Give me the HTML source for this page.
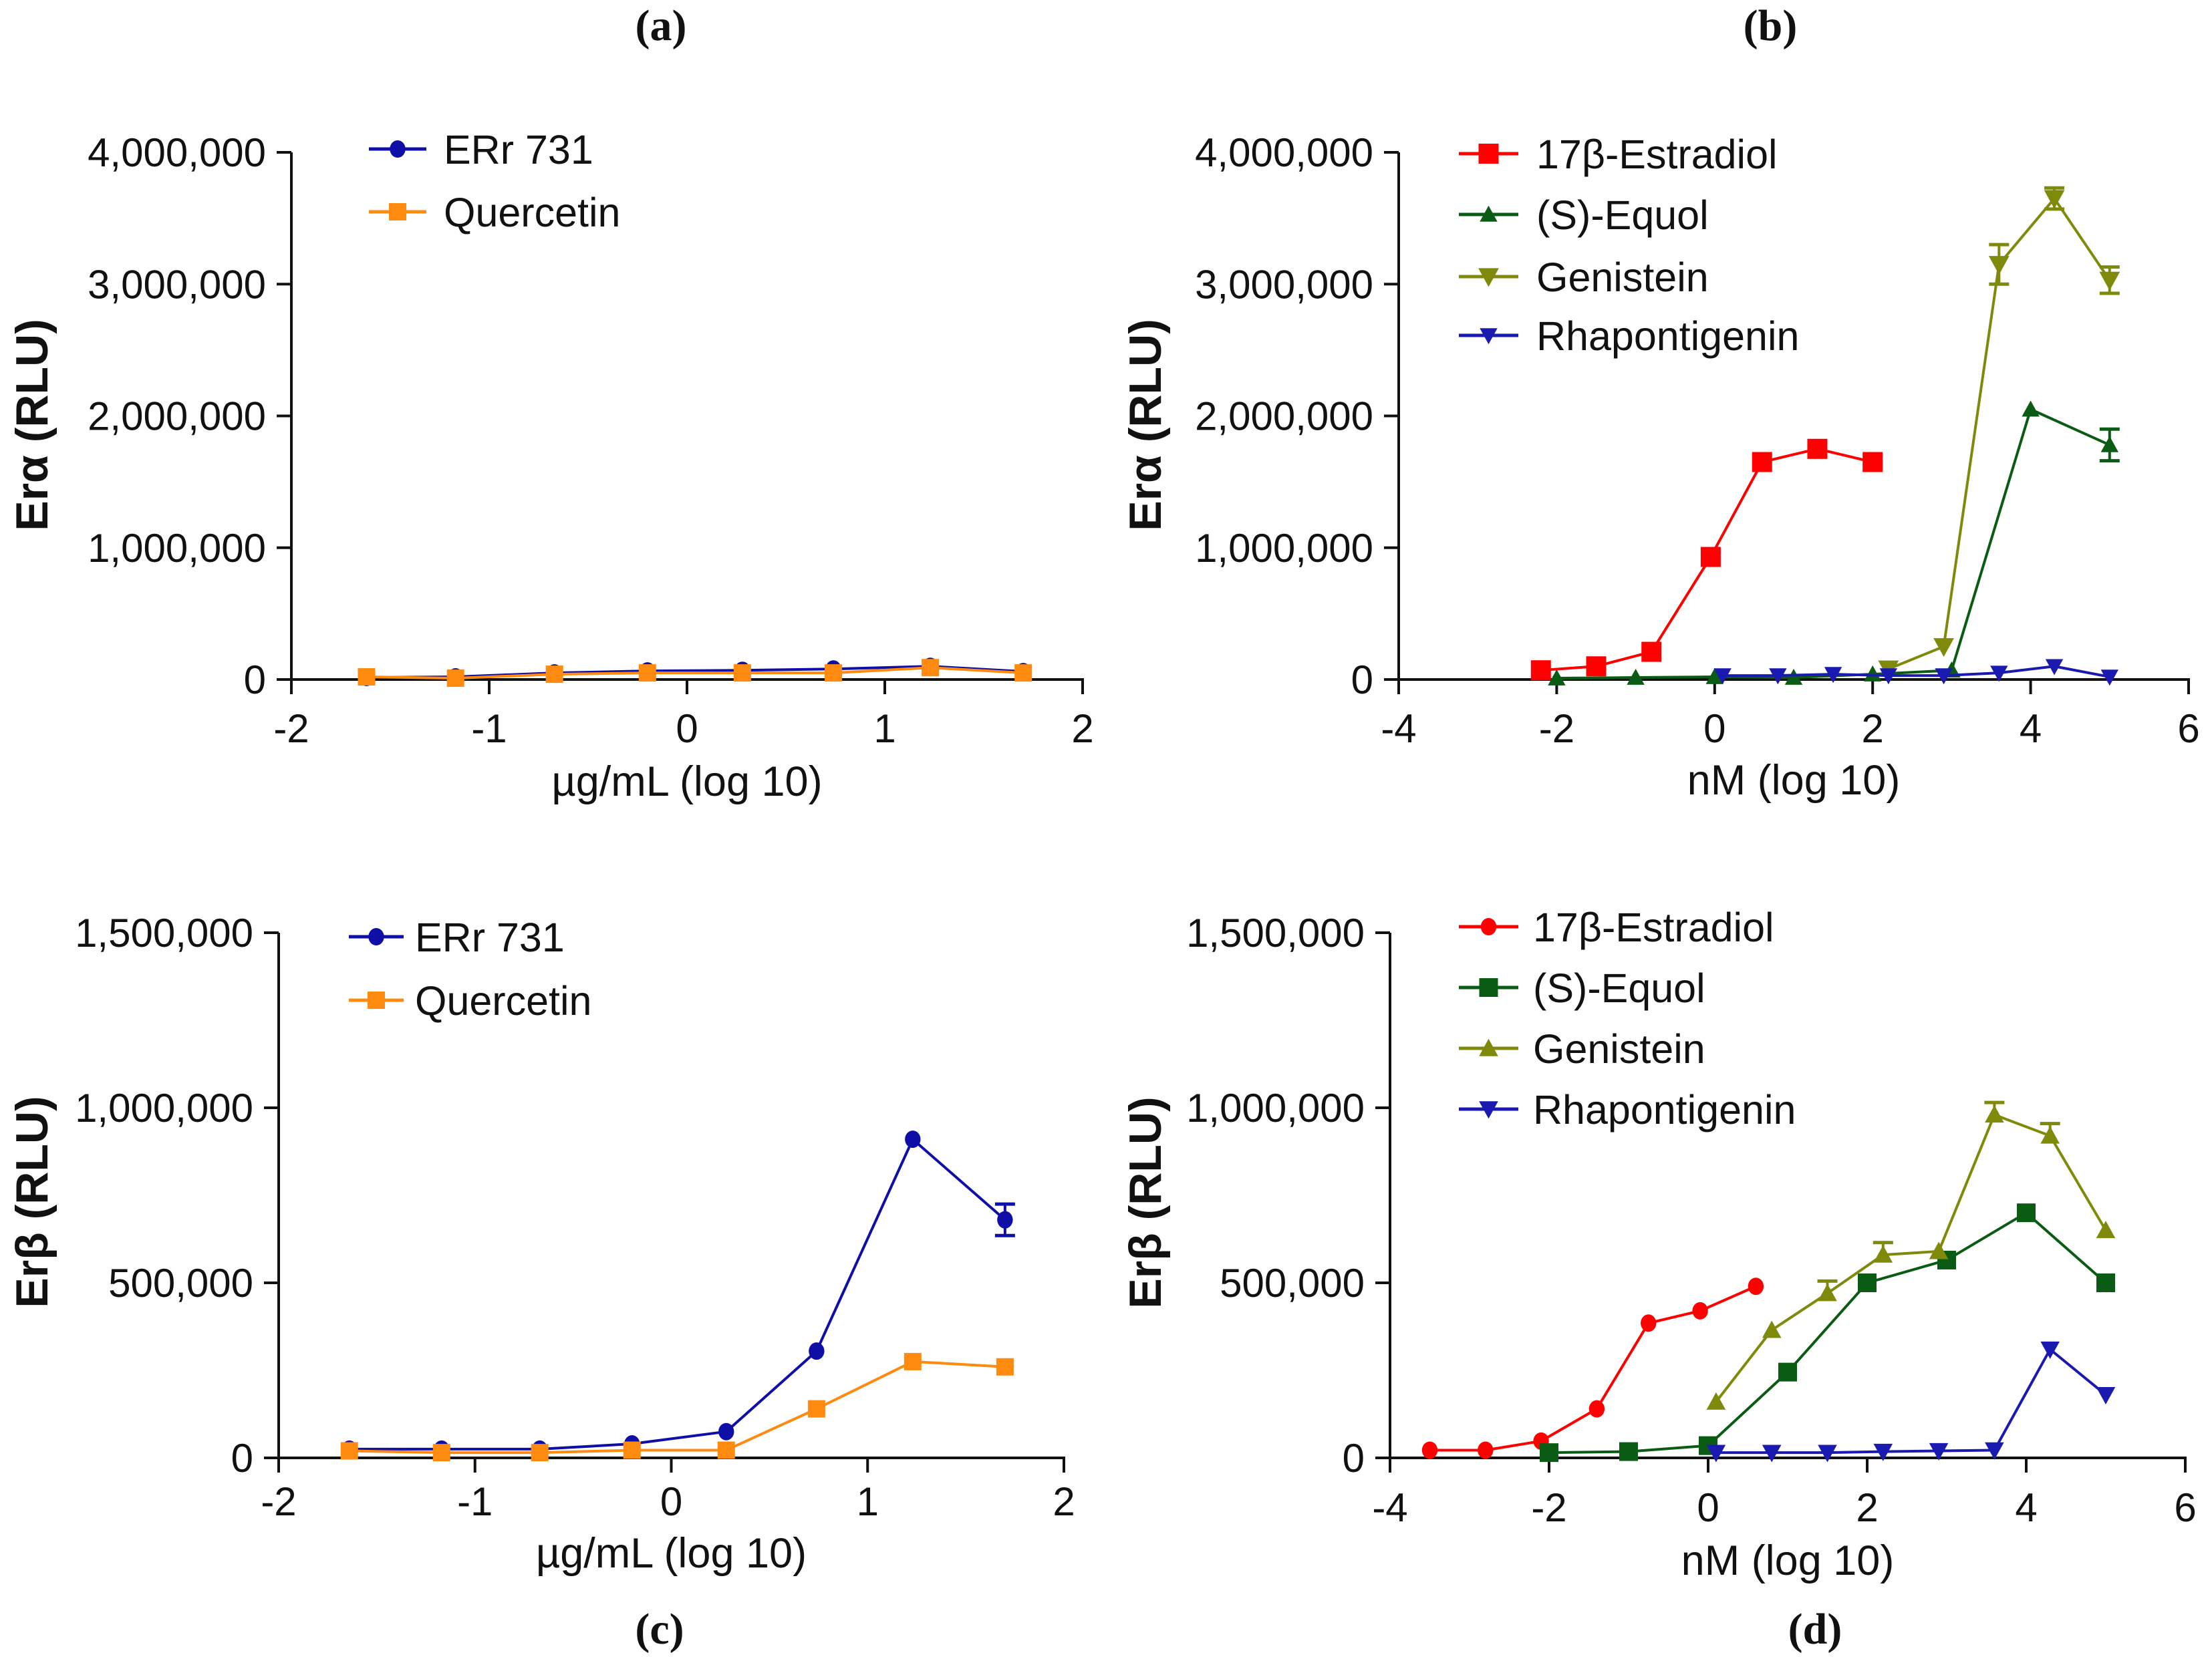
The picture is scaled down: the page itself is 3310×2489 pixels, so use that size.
<!DOCTYPE html>
<html><head><meta charset="utf-8">
<style>
html,body{margin:0;padding:0;background:#fff;}
svg{display:block;}
text{font-family:"Liberation Sans",sans-serif;fill:#111;}
.tick{font-size:60px;}
.leg{font-size:61px;}
.ytitle{font-size:68px;font-weight:bold;}
.xtitle{font-size:63px;}
.plabel{font-family:"Liberation Serif",serif;font-weight:bold;font-size:66px;}
</style></head>
<body>
<svg id="fig" width="3310" height="2489" viewBox="0 0 3310 2489" xmlns="http://www.w3.org/2000/svg">
<text class="plabel" x="989" y="60" text-anchor="middle">(a)</text>
<text class="plabel" x="2649" y="60" text-anchor="middle">(b)</text>
<text class="plabel" x="987" y="2460" text-anchor="middle">(c)</text>
<text class="plabel" x="2716" y="2460" text-anchor="middle">(d)</text>
</svg>
<script>
// ---- Panel (a) data ----
const aX = [-1.62,-1.17,-0.67,-0.2,0.28,0.74,1.23,1.7];
const aErr731 = [15000,20000,50000,65000,70000,80000,100000,60000];
const aQuercetin = [20000,10000,40000,50000,50000,50000,90000,50000];
const aYTicks = [0,1000000,2000000,3000000,4000000];
const aYTickLabels = ["0","1,000,000","2,000,000","3,000,000","4,000,000"];
const aXTicks = [-2,-1,0,1,2];
// ---- Panel (b) data ----
const bEstX = [-2.2,-1.5,-0.8,-0.05,0.6,1.3,2.0];
const bEst = [70000,100000,210000,930000,1650000,1750000,1650000];
const bEquX = [-2,-1,0,1,2,3,4,5];
const bEqu = [10000,15000,20000,15000,40000,70000,2050000,1780000];
const bEquErr = [0,0,0,0,0,0,0,120000];
const bGenX = [2.2,2.9,3.6,4.3,5];
const bGen = [80000,250000,3150000,3650000,3030000];
const bGenErr = [0,0,150000,80000,100000];
const bRhaX = [0.1,0.8,1.5,2.2,2.9,3.6,4.3,5];
const bRha = [30000,30000,40000,30000,30000,50000,100000,20000];
const bXTicks = [-4,-2,0,2,4,6];
// ---- Panel (c) data ----
const cX = [-1.64,-1.17,-0.67,-0.2,0.28,0.74,1.23,1.7];
const cErr731 = [25000,25000,25000,40000,75000,305000,910000,680000];
const cErr731Err = [0,0,0,0,0,0,0,45000];
const cQuercetin = [20000,15000,15000,22000,22000,140000,275000,260000];
const cYTicks = [0,500000,1000000,1500000];
const cYTickLabels = ["0","500,000","1,000,000","1,500,000"];
// ---- Panel (d) data ----
const dEstX = [-3.5,-2.8,-2.1,-1.4,-0.75,-0.1,0.6];
const dEst = [22000,22000,48000,140000,385000,420000,490000];
const dEquX = [-2,-1,0,1,2,3,4,5];
const dEqu = [15000,18000,35000,245000,500000,565000,700000,500000];
const dGenX = [0.1,0.8,1.5,2.2,2.9,3.6,4.3,5];
const dGen = [160000,365000,470000,580000,590000,980000,920000,650000];
const dGenErr = [0,0,35000,35000,0,35000,35000,0];
const dRhaX = [0.1,0.8,1.5,2.2,2.9,3.6,4.3,5];
const dRha = [15000,15000,15000,18000,20000,22000,310000,180000];

const NS = "http://www.w3.org/2000/svg";
const fig = document.getElementById('fig');
function mk(tag, attrs, parent){
  const e = document.createElementNS(NS, tag);
  for (const k in attrs) e.setAttribute(k, attrs[k]);
  (parent||fig).appendChild(e);
  return e;
}

function marker(g, shape, cx, cy, col, s){
  let e;
  if (shape==='circle') e = mk('ellipse',{cx:cx,cy:cy,rx:s*0.45,ry:s*0.5,fill:col},g);
  else if (shape==='square') e = mk('rect',{x:cx-s/2,y:cy-s/2,width:s,height:s,fill:col},g);
  else if (shape==='up') e = mk('polygon',{points:`${cx},${cy-s*0.55} ${cx-s*0.55},${cy+s*0.45} ${cx+s*0.55},${cy+s*0.45}`,fill:col},g);
  else e = mk('polygon',{points:`${cx},${cy+s*0.55} ${cx-s*0.55},${cy-s*0.45} ${cx+s*0.55},${cy-s*0.45}`,fill:col},g);
  return e;
}

function panel(p){
  const g = mk('g',{});
  
  
  const sx = v => p.x0 + (v - p.xmin)/(p.xmax - p.xmin)*(p.x1 - p.x0);
  const sy = v => p.y0 - (v - 0)/(p.ymax)*(p.y0 - p.y1);
  const ya = mk('line',{x1:p.x0,y1:p.y1,x2:p.x0,y2:p.y0+2,stroke:'#111','stroke-width':4},g);
  
  
  const xa = mk('line',{x1:p.x0-2,y1:p.y0,x2:p.x1+2,y2:p.y0,stroke:'#111','stroke-width':4},g);
  
  
  p.yticks.forEach((v,i)=>{
    const y = sy(v);
    mk('line',{x1:p.x0-22,y1:y,x2:p.x0,y2:y,stroke:'#111','stroke-width':4},g);
    const t = mk('text',{x:p.x0-38,y:y+21,'text-anchor':'end',class:'tick'},g);
    t.textContent = p.ylabels[i];
    
    
  });
  p.xticks.forEach(v=>{
    const x = sx(v);
    mk('line',{x1:x,y1:p.y0,x2:x,y2:p.y0+22,stroke:'#111','stroke-width':4},g);
    const t = mk('text',{x:x,y:p.y0+p.xlabOff,'text-anchor':'middle',class:'tick'},g);
    t.textContent = String(v);
    
    
  });
  const xt = mk('text',{x:(p.x0+p.x1)/2,y:p.y0+p.xtitleOff,'text-anchor':'middle',class:'xtitle'},g);
  xt.textContent = p.xtitle;
  
  
  const yt = mk('text',{x:0,y:0,'text-anchor':'middle',class:'ytitle',transform:`translate(${p.ytx+24},${p.yty}) rotate(-90)`},g);
  yt.textContent = p.ytitle;
  
  
  p.series.forEach(s=>{
    const sg = mk('g',{},g);
    
    
    const pts = s.x.map((xv,i)=>sx(xv)+','+sy(s.y[i])).join(' ');
    mk('polyline',{points:pts,fill:'none',stroke:s.col,'stroke-width':4,'stroke-linejoin':'round'},sg);
    s.x.forEach((xv,i)=>{
      const cx = sx(xv), cy = sy(s.y[i]);
      if (s.err && s.err[i]>0){
        const yt2 = sy(s.y[i]+s.err[i]);
        mk('line',{x1:cx,y1:cy,x2:cx,y2:yt2,stroke:s.col,'stroke-width':4},sg);
        mk('line',{x1:cx-15,y1:yt2,x2:cx+15,y2:yt2,stroke:s.col,'stroke-width':5},sg);
        if (!s.upOnly){
          const yb = sy(s.y[i]-s.err[i]);
          mk('line',{x1:cx,y1:cy,x2:cx,y2:yb,stroke:s.col,'stroke-width':4},sg);
          mk('line',{x1:cx-15,y1:yb,x2:cx+15,y2:yb,stroke:s.col,'stroke-width':5},sg);
        }
      }
      const m = marker(sg, s.shape, cx, cy, s.col, s.size||26);
      
      
    });
  });
  p.series.forEach((s,i)=>{
    const lg = mk('g',{},g);
    
    
    const y = p.legY[i];
    mk('line',{x1:p.legX0,y1:y,x2:p.legX1,y2:y,stroke:s.col,'stroke-width':5},lg);
    marker(lg, s.shape, (p.legX0+p.legX1)/2, y, s.col, s.size||26);
    const t = mk('text',{x:p.legTx,y:y+22,class:'leg'},lg);
    t.textContent = s.label;
  });
}

const BLUE='#0f0fa8', ORANGE='#ff8a10', RED='#ff0000', DGREEN='#0a5c14', OLIVE='#7f8a0a', RBLUE='#1a1ab0';

panel({name:'panel-a', x0:436,x1:1620,y0:1017,y1:228,xmin:-2,xmax:2,ymax:4000000,
  yticks:aYTicks, ylabels:aYTickLabels, xticks:aXTicks, xlabOff:94, xtitleOff:174,
  xtitle:'µg/mL (log 10)', ytitle:'Erα (RLU)', ytx:47, yty:636,
  legX0:552,legX1:638,legTx:664,legY:[223,317],
  series:[
    {key:'errr731',label:'ERr 731',x:aX,y:aErr731,col:BLUE,shape:'circle'},
    {key:'quercetin',label:'Quercetin',x:aX,y:aQuercetin,col:ORANGE,shape:'square'}
  ]});

panel({name:'panel-b', x0:2093,x1:3275,y0:1017,y1:228,xmin:-4,xmax:6,ymax:4000000,
  yticks:aYTicks, ylabels:aYTickLabels, xticks:bXTicks, xlabOff:94, xtitleOff:172,
  xtitle:'nM (log 10)', ytitle:'Erα (RLU)', ytx:1713, yty:636,
  legX0:2183,legX1:2272,legTx:2299,legY:[230,321,414,502],
  series:[
    {key:'estradiol',label:'17β-Estradiol',x:bEstX,y:bEst,col:RED,shape:'square',size:30},
    {key:'equol',label:'(S)-Equol',x:bEquX,y:bEqu,err:bEquErr,col:DGREEN,shape:'up',size:24},
    {key:'genistein',label:'Genistein',x:bGenX,y:bGen,err:bGenErr,col:OLIVE,shape:'down',size:28},
    {key:'rhapontigenin',label:'Rhapontigenin',x:bRhaX,y:bRha,col:RBLUE,shape:'down',size:24}
  ]});

panel({name:'panel-c', x0:417,x1:1592,y0:2182,y1:1396,xmin:-2,xmax:2,ymax:1500000,
  yticks:cYTicks, ylabels:cYTickLabels, xticks:aXTicks, xlabOff:86, xtitleOff:164,
  xtitle:'µg/mL (log 10)', ytitle:'Erβ (RLU)', ytx:47, yty:1799,
  legX0:522,legX1:604,legTx:621,legY:[1402,1497],
  series:[
    {key:'errr731',label:'ERr 731',x:cX,y:cErr731,err:cErr731Err,col:BLUE,shape:'circle'},
    {key:'quercetin',label:'Quercetin',x:cX,y:cQuercetin,col:ORANGE,shape:'square'}
  ]});

panel({name:'panel-d', x0:2080,x1:3270,y0:2182,y1:1396,xmin:-4,xmax:6,ymax:1500000,
  yticks:cYTicks, ylabels:cYTickLabels, xticks:bXTicks, xlabOff:95, xtitleOff:175,
  xtitle:'nM (log 10)', ytitle:'Erβ (RLU)', ytx:1713, yty:1800,
  legX0:2183,legX1:2272,legTx:2294,legY:[1387,1478,1569,1660],
  series:[
    {key:'estradiol',label:'17β-Estradiol',x:dEstX,y:dEst,col:RED,shape:'circle'},
    {key:'equol',label:'(S)-Equol',x:dEquX,y:dEqu,col:DGREEN,shape:'square',size:28},
    {key:'genistein',label:'Genistein',x:dGenX,y:dGen,err:dGenErr,upOnly:true,col:OLIVE,shape:'up',size:26},
    {key:'rhapontigenin',label:'Rhapontigenin',x:dRhaX,y:dRha,col:RBLUE,shape:'down',size:26}
  ]});
</script>
</body></html>
